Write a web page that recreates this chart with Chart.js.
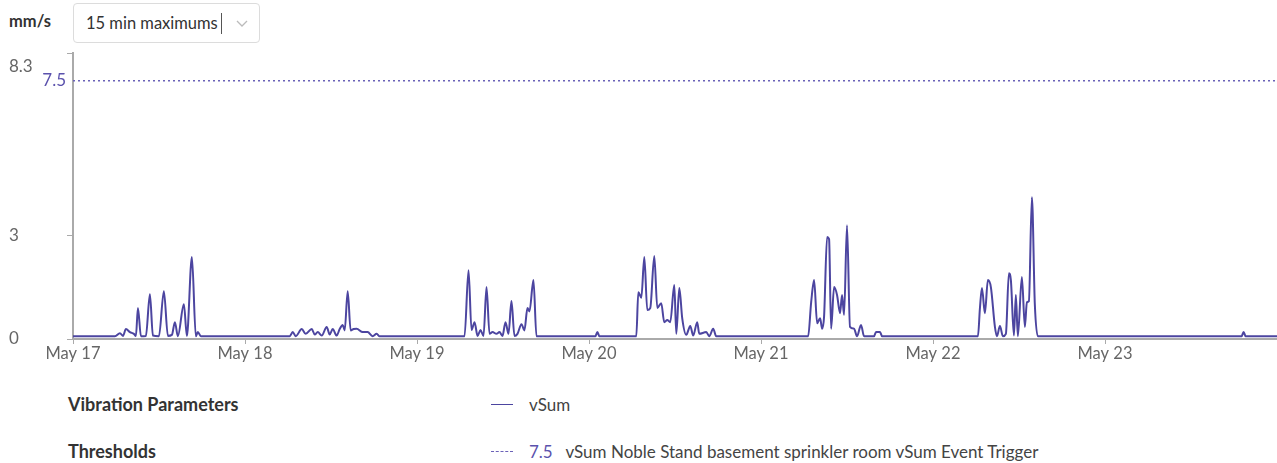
<!DOCTYPE html>
<html>
<head>
<meta charset="utf-8">
<script src="https://cdn.jsdelivr.net/npm/chart.js@4/dist/chart.umd.min.js"></script>
<style>
  body { margin: 0; width: 1277px; height: 463px; background: #fff; font-family: Lato, "Open Sans", sans-serif; position: relative; overflow: hidden; }
  .unit { position: absolute; left: 9px; top: 11px; font-size: 16.5px; font-weight: bold; color: #333; }
  .select { position: absolute; left: 73px; top: 3px; width: 187px; height: 40px; border: 1px solid #dcdcdc; border-radius: 4px; box-sizing: border-box; }
  .select span { position: absolute; left: 12px; top: 9px; font-size: 16.5px; color: #333; }
  .select .sep { position: absolute; left: 147px; top: 9px; width: 1px; height: 21px; background: #555; }
  .select svg { position: absolute; left: 162px; top: 16px; }
  #wrap { position: absolute; left: 0; top: 40px; width: 1277px; height: 330px; }
  .leg { position: absolute; font-size: 17px; color: #444; }
  .leg b { color: #333; font-size: 18px; }
  .swatch { position: absolute; width: 22px; height: 0; }
</style>
</head>
<body>
<div class="unit">mm/s</div>
<div class="select"><span>15 min maximums</span><div class="sep"></div>
  <svg width="12" height="8" viewBox="0 0 12 8"><path d="M1 1 L6 6 L11 1" fill="none" stroke="#bbb" stroke-width="1.3"/></svg>
</div>
<div id="wrap"><canvas id="chart"></canvas></div>

<div class="leg" style="left:68px; top:393px;"><b>Vibration Parameters</b></div>
<div class="swatch" style="left:491px; top:404px; border-top:1.5px solid #4c45a0;"></div>
<div class="leg" style="left:529px; top:394px;">vSum</div>

<div class="leg" style="left:68px; top:440px;"><b>Thresholds</b></div>
<div class="swatch" style="left:491px; top:451px; border-top:1.5px dashed #6b62b8;"></div>
<div class="leg" style="left:529px; top:441px;"><span style="color:#5b52ad;">7.5</span>&nbsp;&nbsp; vSum Noble Stand basement sprinkler room vSum Event Trigger</div>

<script>
// hours since May 17 00:00
const hours = [
  0, 5.85, 6.55, 6.97, 7.39, 7.94, 8.5, 8.78, 9.06, 9.48, 10.17, 10.73, 11.15, 11.99, 12.68, 13.24,
  13.8, 14.22, 14.63, 15.47, 15.89, 16.59, 17.14, 17.42, 17.84,
  30.24, 30.66, 31.08, 31.92, 32.47, 33.31, 33.73, 34.15, 34.71, 35.4, 35.82, 36.24, 36.79, 37.21,
  37.63, 37.91, 38.33, 38.74, 39.16, 39.58, 40.42, 41.11, 41.81, 42.37, 42.79,
  54.63, 55.19, 55.61, 56.03, 56.45, 56.86, 57.28, 57.7, 58.12, 58.54, 59.09, 59.51, 59.93, 60.35,
  60.77, 61.18, 61.6, 62.02, 62.58, 62.99, 63.41, 63.69, 64.25, 64.67,
  72.89, 73.17, 73.45,
  78.6, 78.88, 79.3, 79.72, 80.13, 80.55, 81.11, 81.53, 82.08, 82.5, 82.92, 83.34, 83.9, 84.18,
  84.6, 85.01, 85.57, 86.13, 86.54, 87.1, 87.38, 88.36, 88.78, 89.33, 89.75,
  102.58, 103.0, 103.41, 103.83, 104.25, 104.53, 104.8, 105.22, 105.5, 105.78, 106.2, 106.61, 107.03,
  107.31, 107.59, 108.0, 108.42, 108.98, 109.4, 109.96, 110.38, 111.77, 112.05, 112.61, 112.89,
  126.27, 126.55, 126.83, 127.24, 127.66, 128.08, 128.64, 128.92, 129.34, 129.75, 130.17, 130.59,
  130.87, 131.29, 131.56, 131.84, 132.4, 132.82, 133.1, 133.38, 133.8, 134.21, 134.63,
  163.06, 163.34, 163.62, 168
];
const vsum = [
  0.08, 0.08, 0.17, 0.09, 0.29, 0.2, 0.15, 0.09, 0.9, 0.08, 0.09, 1.3, 0.1, 0.08, 1.39, 0.09,
  0.12, 0.49, 0.08, 1.01, 0.09, 2.38, 0.08, 0.2, 0.08,
  0.08, 0.2, 0.08, 0.29, 0.15, 0.29, 0.13, 0.2, 0.1, 0.35, 0.13, 0.29, 0.1, 0.29,
  0.41, 0.25, 1.39, 0.25, 0.29, 0.3, 0.2, 0.2, 0.08, 0.15, 0.08,
  0.08, 2.0, 0.26, 0.49, 0.09, 0.26, 0.09, 1.51, 0.15, 0.2, 0.15, 0.2, 0.09, 0.49,
  0.15, 1.1, 0.09, 0.15, 0.43, 0.25, 0.9, 0.8, 1.71, 0.08,
  0.08, 0.2, 0.08,
  0.08, 1.36, 1.2, 2.38, 0.84, 0.9, 2.41, 0.9, 1.04, 0.49, 0.55, 0.49, 1.57, 0.15,
  1.48, 0.6, 0.12, 0.38, 0.1, 0.49, 0.15, 0.2, 0.08, 0.3, 0.08,
  0.08, 1.07, 1.71, 0.46, 0.6, 0.3, 0.65, 2.96, 2.9, 0.3, 1.51, 1.28, 0.75,
  1.28, 0.7, 3.3, 0.35, 0.3, 0.08, 0.41, 0.08, 0.08, 0.2, 0.2, 0.08,
  0.08, 0.9, 1.48, 0.75, 1.71, 1.5, 0.35, 0.08, 0.38, 0.08, 0.15, 1.91,
  1.7, 0.1, 1.28, 0.08, 1.8, 0.35, 1.07, 1.1, 4.12, 1.0, 0.08,
  0.08, 0.2, 0.08, 0.08
];
const dayLabels = ['May 17', 'May 18', 'May 19', 'May 20', 'May 21', 'May 22', 'May 23'];
const yTicks = [0, 3, 8.3];
const yMax = 8.3;
const threshold = 7.5;

const lineColor = '#4c45a0';
const threshColor = '#6b62b8';

// the top tick label sits below its tick, and the threshold value is written beside the axis
const axisExtras = {
  id: 'axisExtras',
  afterDraw(chart) {
    const y = chart.scales.y;
    const ctx = chart.ctx;
    ctx.save();
    ctx.font = '17px Lato';
    ctx.textBaseline = 'middle';
    ctx.fillStyle = '#666';
    ctx.textAlign = 'left';
    ctx.fillText(String(yMax), y.left, y.getPixelForValue(yMax) + 13);
    ctx.fillStyle = '#5b52ad';
    ctx.textAlign = 'right';
    ctx.fillText(String(threshold), y.right - 7, y.getPixelForValue(threshold));
    ctx.restore();
  }
};

new Chart(document.getElementById('chart'), {
  type: 'line',
  data: {
    datasets: [{
      label: 'vSum',
      data: hours.map((h, i) => ({ x: h, y: vsum[i] })),
      borderColor: lineColor,
      borderWidth: 2,
      pointRadius: 0,
      cubicInterpolationMode: 'monotone',
      fill: false
    }, {
      label: 'threshold',
      data: [{ x: 0, y: threshold }, { x: 168, y: threshold }],
      borderColor: threshColor,
      borderWidth: 1.6,
      borderDash: [2, 3],
      pointRadius: 0,
      fill: false
    }]
  },
  options: {
    responsive: true,
    maintainAspectRatio: false,
    animation: false,
    layout: { padding: { left: 9, top: 13, right: 0, bottom: 0 } },
    plugins: { legend: { display: false }, tooltip: { enabled: false } },
    scales: {
      x: {
        type: 'linear',
        min: 0,
        max: 168,
        afterFit(scale) { scale.height = 31; },
        ticks: {
          stepSize: 24,
          maxRotation: 0,
          autoSkip: false,
          padding: 0,
          color: '#666',
          font: { family: 'Lato', size: 16.5 },
          callback(v) { return dayLabels[v / 24] !== undefined ? dayLabels[v / 24] : null; }
        },
        grid: { drawOnChartArea: false, tickLength: 5, color: '#aaa' },
        border: { color: '#aaa', width: 2 }
      },
      y: {
        min: 0,
        max: yMax,
        afterFit(scale) { scale.width = 64; },
        afterBuildTicks(scale) { scale.ticks = yTicks.map(v => ({ value: v })); },
        ticks: {
          crossAlign: 'far',
          color: '#666',
          font: { family: 'Lato', size: 17 },
          callback(v) { return v === yMax ? '' : String(v); }
        },
        grid: { drawOnChartArea: false, tickLength: 6, color: '#aaa' },
        border: { color: '#aaa', width: 2 }
      }
    }
  },
  plugins: [axisExtras]
});
</script>
</body>
</html>
